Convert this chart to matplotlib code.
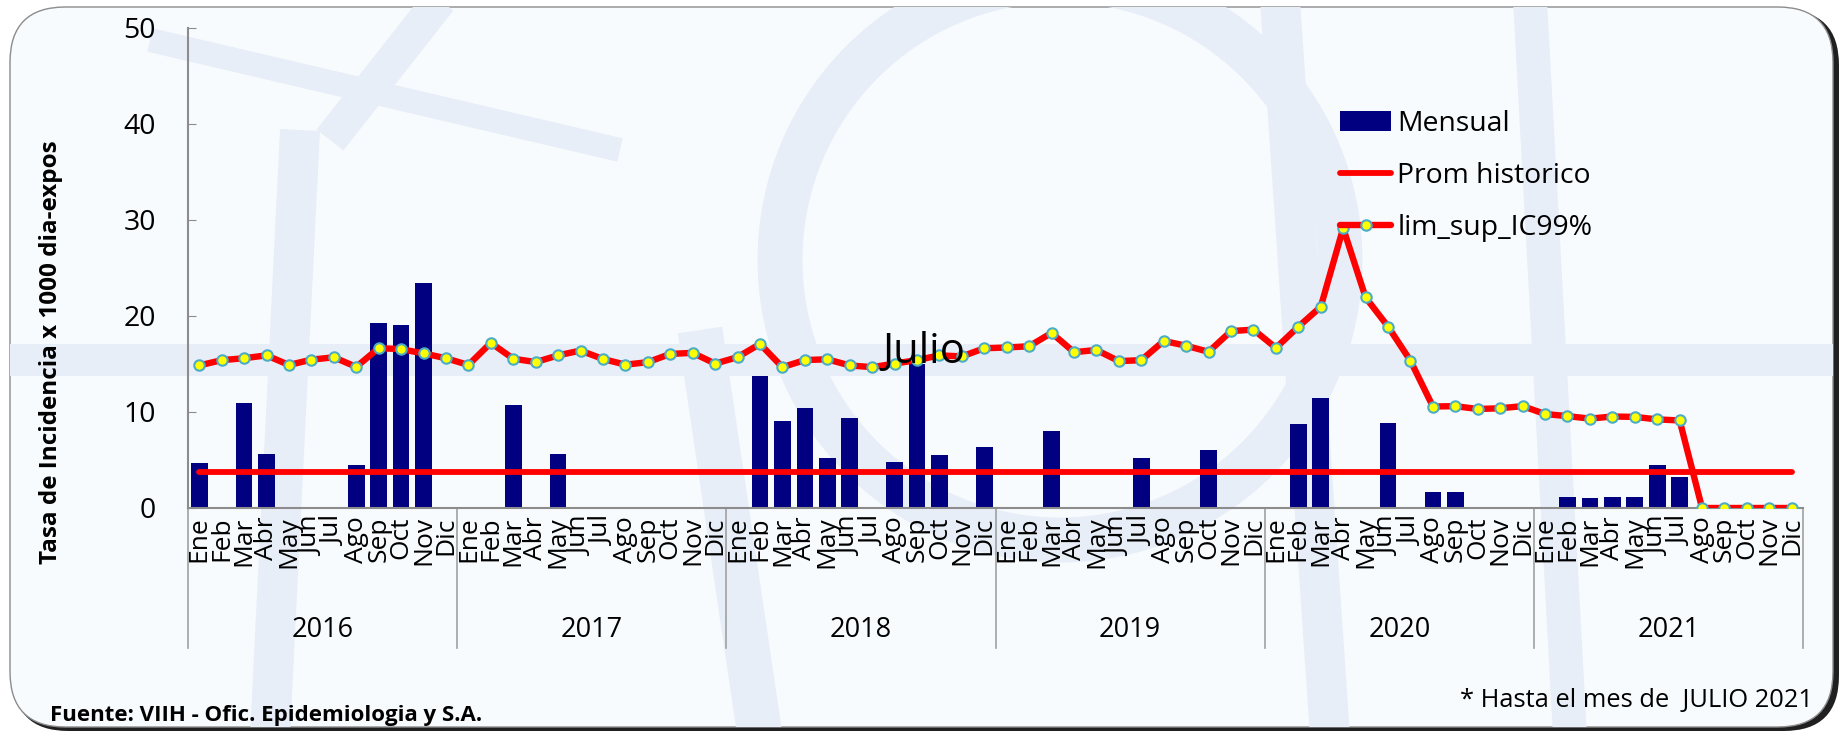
import matplotlib
matplotlib.use('Agg')
import matplotlib.pyplot as plt
from matplotlib.patches import FancyBboxPatch, Patch, Ellipse
from matplotlib.lines import Line2D

plt.rcParams['font.family'] = ['Open Sans', 'DejaVu Sans']

# Datos
anios = ['2016', '2017', '2018', '2019', '2020', '2021']
meses = ['Ene', 'Feb', 'Mar', 'Abr', 'May', 'Jun', 'Jul', 'Ago', 'Sep', 'Oct', 'Nov', 'Dic']

mensual = [
    4.65, 0, 10.9, 5.66, 0, 0, 0, 4.5, 19.25, 19.06, 23.45, 0,      # 2016
    0, 0, 10.7, 0, 5.6, 0, 0, 0, 0, 0, 0, 0,                        # 2017
    0, 13.7, 9.05, 10.4, 5.17, 9.4, 0, 4.84, 15.04, 5.55, 0, 6.33,  # 2018
    0, 0, 8.0, 0, 0, 0, 5.17, 0, 0, 6.0, 0, 0,                      # 2019
    0, 8.79, 11.43, 0, 0, 8.82, 0, 1.68, 1.71, 0, 0, 0,             # 2020
    0, 1.19, 1.04, 1.19, 1.15, 4.47, 3.24, 0, 0, 0, 0, 0,           # 2021
]

prom_historico = [3.8] * 72

lim_sup = [
    14.85, 15.4, 15.6, 15.9, 14.9, 15.45, 15.7, 14.7, 16.65, 16.55, 16.1, 15.6,
    14.9, 17.2, 15.55, 15.2, 15.9, 16.4, 15.52, 14.93, 15.19, 16.05, 16.16, 15.04,
    15.71, 17.09, 14.67, 15.41, 15.49, 14.85, 14.67, 15.04, 15.41, 15.9, 15.79, 16.64,
    16.72, 16.85, 18.24, 16.23, 16.46, 15.3, 15.4, 17.4, 16.9, 16.27, 18.43, 18.58,
    16.68, 18.88, 20.96, 29.15, 21.93, 18.9, 15.34, 10.57, 10.61, 10.31, 10.39, 10.61,
    9.79, 9.57, 9.31, 9.53, 9.49, 9.23, 9.12, 0, 0, 0, 0, 0,
]

W, H = 1843, 736
fig = plt.figure(figsize=(W / 100, H / 100), dpi=100, facecolor='white')


def fx(px):
    return px / W


def fy(py):
    return 1 - py / H


# Marco redondeado con sombra
sombra = FancyBboxPatch((fx(13), fy(731)), fx(1826), fy(10) - fy(731),
                        boxstyle='round,pad=0,rounding_size=0.03',
                        transform=fig.transFigure, facecolor='#202020',
                        edgecolor='none', mutation_aspect=W / H, zorder=-5)
fig.add_artist(sombra)
marco = FancyBboxPatch((fx(10), fy(727)), fx(1823), fy(7) - fy(727),
                       boxstyle='round,pad=0,rounding_size=0.03',
                       transform=fig.transFigure, facecolor='#F8FBFE',
                       edgecolor='#8C8C8C', linewidth=1, mutation_aspect=W / H, zorder=-4)
fig.add_artist(marco)

# Marca de agua (formas celestes tenues)
agua = '#E8EEF8'
formas = [
    ([0, 1843], [360, 360], 32),
    ([150, 620], [40, 150], 24),
    ([300, 270], [130, 736], 40),
    ([330, 440], [140, 0], 34),
    ([760, 700], [736, 330], 45),
    ([1280, 1330], [0, 736], 40),
    ([1530, 1570], [0, 736], 34),
]
for xs, ys, lw in formas:
    ln = Line2D([fx(v) for v in xs], [fy(v) for v in ys], transform=fig.transFigure,
                color=agua, linewidth=lw * 0.72, solid_capstyle='butt', zorder=-3)
    ln.set_clip_path(marco)
    fig.add_artist(ln)
anillo = Ellipse((fx(1060), fy(260)), fx(560), 560 / H, transform=fig.transFigure,
                 facecolor='none', edgecolor=agua, linewidth=45 * 0.72, zorder=-3)
anillo.set_clip_path(marco)
fig.add_artist(anillo)

# Ejes
ax = fig.add_axes([fx(188), fy(508), fx(1803) - fx(188), fy(28) - fy(508)])
ax.set_facecolor('none')
x = list(range(len(mensual)))

ax.bar(x, mensual, width=0.74, color='#000080', zorder=2, linewidth=0)
ax.plot(x, prom_historico, color='red', linewidth=4.2, solid_capstyle='round', zorder=3)
ax.plot(x, lim_sup, color='red', linewidth=4.6, solid_capstyle='round',
        solid_joinstyle='round', marker='o', markersize=7.5,
        markerfacecolor='yellow', markeredgecolor='#4BACC6', markeredgewidth=1.5, zorder=4)

ax.set_xlim(-0.5, len(mensual) - 0.5)
ax.set_ylim(0, 50)
ax.set_yticks(range(0, 51, 10))
ax.tick_params(axis='y', direction='in', length=6, pad=23, labelsize=20.5, color='#8C8C8C')
ax.set_xticks(x)
ax.set_xticklabels(meses * len(anios), rotation=90, fontsize=19)
ax.tick_params(axis='x', length=0, pad=6)

for s in ['top', 'right']:
    ax.spines[s].set_visible(False)
for s in ['left', 'bottom']:
    ax.spines[s].set_color('#8C8C8C')
    ax.spines[s].set_linewidth(1.5)

# Separadores y etiquetas de anio
trans = ax.get_xaxis_transform()
for k in range(len(anios) + 1):
    xb = k * 12 - 0.5
    ax.plot([xb, xb], [0, -0.292], transform=trans, color='#A0A0A0', lw=1.2, clip_on=False)
for k, a in enumerate(anios):
    ax.text(k * 12 + 5.5, -0.254, a, transform=trans, ha='center', va='center', fontsize=19.5)

ax.text(32.3, 16.2, 'Julio', fontsize=30, ha='center', va='center', zorder=5)

handles = [
    Patch(facecolor='#000080'),
    Line2D([], [], color='red', linewidth=4.2, solid_capstyle='round'),
    Line2D([], [], color='red', linewidth=4.6, solid_capstyle='round', marker='o',
           markersize=7.5, markerfacecolor='yellow', markeredgecolor='#4BACC6',
           markeredgewidth=1.5),
]
ax.legend(handles, ['Mensual', 'Prom historico', 'lim_sup_IC99%'], loc='upper left',
          bbox_to_anchor=(0.7133, 0.83), frameon=False, fontsize=20.4, handlelength=1.81,
          handletextpad=0.22, labelspacing=0.85, numpoints=1, borderpad=0, borderaxespad=0)

fig.text(fx(51), fy(352), 'Tasa de Incidencia x 1000 dia-expos', rotation=90,
         fontweight='bold', fontsize=17.5, ha='center', va='center')
fig.text(fx(50), fy(716), 'Fuente: VIIH - Ofic. Epidemiologia y S.A.', fontweight='bold',
         fontsize=16, va='center')
fig.text(fx(1813), fy(700), '* Hasta el mes de  JULIO 2021', fontsize=18.4, ha='right',
         va='center')

fig.savefig('out.png', dpi=100, facecolor=fig.get_facecolor())
